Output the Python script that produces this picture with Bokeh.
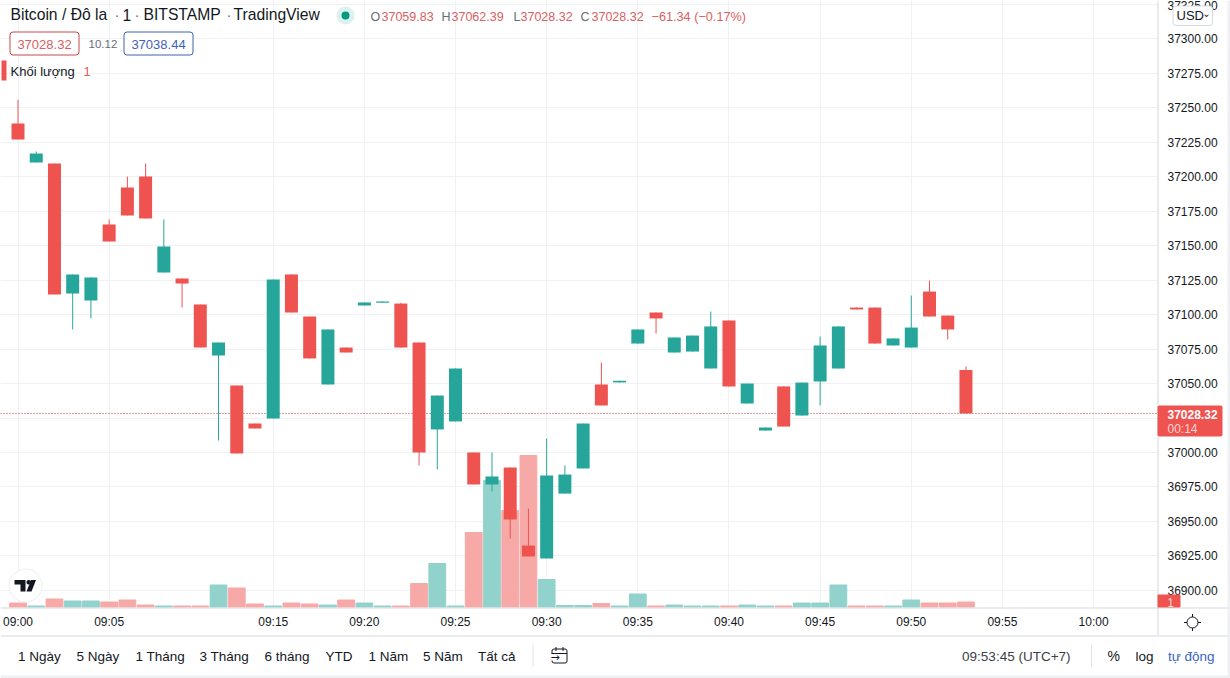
from bokeh.embed import file_html
from bokeh.resources import INLINE
from bokeh.plotting import figure
from bokeh.models import (ColumnDataSource, Range1d, FixedTicker, NumeralTickFormatter,
                          Span, Label, BoxAnnotation, PolyAnnotation, AllLabels)
import numpy as np

# ---- data ----
open_ = [37238.6,37210.3,37209.6,37115.3,37110.2,37165.3,37192.2,37200.1,37130.5,37126.2,
         37107.3,37070.3,37048.6,37021.0,37024.6,37129.1,37098.6,37049.3,37076.1,37106.6,
         37108.6,37108.0,37079.8,37016.7,37022.5,37000.0,36976.8,36989.1,36932.5,36923.1,
         36970.2,36988.4,37049.3,37050.8,37079.0,37101.5,37072.5,37073.2,37060.9,37095.7,
         37035.5,37015.9,37047.9,37026.8,37051.5,37060.9,37105.1,37105.1,37077.6,37076.1,
         37116.7,37099.3,37059.83]
close = [37227.0,37216.8,37114.6,37129.1,37126.9,37153.0,37171.9,37169.7,37149.4,37122.5,
         37076.1,37079.8,36999.3,37017.4,37125.4,37101.5,37068.2,37089.2,37072.5,37108.8,
         37109.5,37076.1,37000.0,37041.3,37060.9,36976.8,36982.6,36951.4,36924.6,36983.3,
         36984.0,37021.0,37034.1,37052.0,37089.2,37097.2,37083.4,37084.8,37091.4,37047.9,
         37050.0,37018.1,37018.8,37050.7,37077.6,37091.4,37103.7,37079.0,37082.7,37090.6,
         37098.6,37089.2,37028.32]
high =  [37255.8,37218.3,37209.6,37129.1,37126.9,37169.0,37200.1,37209.6,37169.0,37126.2,
         37107.3,37079.8,37048.6,37021.0,37125.4,37129.1,37098.6,37089.2,37076.1,37108.8,
         37109.5,37108.5,37079.8,37041.3,37060.9,37000.0,37000.0,36989.1,36959.4,37010.1,
         36990.6,37021.0,37065.2,37052.0,37089.2,37101.5,37083.4,37084.8,37102.2,37095.7,
         37050.0,37018.1,37047.9,37050.7,37084.1,37091.4,37105.1,37105.1,37082.7,37113.8,
         37124.7,37099.3,37062.39]
low =   [37227.0,37210.3,37114.6,37089.2,37097.2,37153.0,37171.9,37169.7,37130.5,37105.1,
         37076.1,37008.7,36999.3,37017.4,37024.6,37101.5,37068.2,37049.3,37072.5,37106.6,
         37108.6,37076.1,36990.6,36987.7,37022.5,36976.8,36971.7,36937.6,36924.6,36923.1,
         36970.2,36988.4,37034.1,37050.8,37079.0,37086.3,37072.5,37073.2,37060.9,37047.9,
         37035.5,37015.9,37018.8,37026.8,37034.1,37060.9,37103.7,37079.0,37077.6,37076.1,
         37098.6,37081.9,37028.32]
volume = [0.9,0.3,1.7,1.3,1.3,1.1,1.5,0.5,0.3,0.3,
          0.3,4.5,3.9,0.7,0.3,0.9,0.7,0.5,1.5,0.9,
          0.3,0.3,4.8,8.8,0.3,15.0,25.4,19.4,30.4,5.6,
          0.4,0.4,0.8,0.3,2.7,0.3,0.5,0.3,0.3,0.3,
          0.5,0.3,0.3,0.9,0.9,4.5,0.3,0.3,0.3,1.5,
          0.9,0.9,1.1]
price_ticks = [36900,36925,36950,36975,37000,37025,37050,37075,37100,37125,37150,37175,37200,37225,37250,37275,37300,37325]
time_idx = [0,5,14,19,24,29,34,39,44,49,54,59]
time_labels = ["09:00","09:05","09:15","09:20","09:25","09:30","09:35","09:40","09:45","09:50","09:55","10:00"]
range_buttons = [("1 Ngày",17.6),("5 Ngày",76),("1 Tháng",135),("3 Tháng",199),("6 tháng",264),
                 ("YTD",325),("1 Năm",368),("5 Năm",422.5),("Tất cả",477.6)]
last_price = close[-1]

UP, DOWN = "#26A69A", "#EF5350"
UP_V, DOWN_V = "#92D2CC", "#F7A9A7"
GRID, BORDER = "#F0F1F4", "#D6D8E0"
FONT = "Liberation Sans"
TXT, GREY = "#131722", "#6A6D78"
RED_T, BLUE = "#D9605F", "#3F62B5"


def px_to_x(px):
    return (px - 17.5) / 18.23

def px_to_y(py):
    return 37300 - (py - 38.3) * 0.7252

n = len(open_)
idx = np.arange(n)
up = [c >= o for o, c in zip(open_, close)]
src = ColumnDataSource(dict(
    x=idx, open=open_, close=close, high=high, low=low, volume=volume,
    color=[UP if u else DOWN for u in up],
    vcolor=[UP_V if u else DOWN_V for u in up]))

# the frame fills the page; both axes are pinned inside it at the chart's own edges,
# so the price tag, the currency box and the bottom toolbar can be drawn beside them
p = figure(width=1230, height=678,
           x_range=Range1d(px_to_x(0), px_to_x(1230)),
           y_range=Range1d(px_to_y(678), px_to_y(0)),
           y_axis_location="right", toolbar_location=None, output_backend="svg",
           min_border_left=0, min_border_right=0, min_border_top=0, min_border_bottom=0,
           background_fill_color="white", border_fill_color="white", outline_line_color=None)
p.extra_y_ranges = {"vol": Range1d(-(678 - 607) / 5, 607 / 5)}

p.xaxis.ticker = FixedTicker(ticks=time_idx)
p.xaxis.major_label_overrides = dict(zip(time_idx, time_labels))
p.xaxis.major_label_policy = AllLabels()
p.xaxis.fixed_location = px_to_y(607)
p.yaxis.ticker = FixedTicker(ticks=price_ticks)
p.yaxis.formatter = NumeralTickFormatter(format="0.00")
p.yaxis.major_label_policy = AllLabels()
p.yaxis.fixed_location = px_to_x(1157)
for ax in (p.xaxis, p.yaxis):
    ax.major_tick_line_color = None
    ax.minor_tick_line_color = None
    ax.major_tick_out = 0
    ax.major_tick_in = 0
    ax.axis_line_color = None
    ax.major_label_text_font = FONT
    ax.major_label_text_font_size = "12px"
    ax.major_label_text_color = TXT
p.xaxis.major_label_standoff = 7
p.yaxis.major_label_standoff = 10
p.xgrid.ticker = FixedTicker(ticks=time_idx)
p.ygrid.ticker = FixedTicker(ticks=price_ticks)
p.grid.grid_line_color = GRID

p.vbar(x="x", top="volume", bottom=0, width=0.92, color="vcolor", source=src, y_range_name="vol")
p.segment(x0="x", x1="x", y0="low", y1="high", line_color="color", line_width=1, source=src)
p.vbar(x="x", top="open", bottom="close", width=0.713, fill_color="color", line_color=None, source=src)

p.add_layout(Span(location=last_price, dimension="width", line_color="#B03A3A",
                  line_width=1, line_dash="1 2", level="underlay"))


def box(x0, y0, x1, y1, fill=None, line=None, radius=0, lw=1, level="overlay"):
    p.add_layout(BoxAnnotation(left=x0, right=x1, top=y0, bottom=y1, level=level,
                               left_units="canvas", right_units="canvas",
                               top_units="canvas", bottom_units="canvas",
                               fill_color=fill, fill_alpha=1 if fill else 0,
                               line_color=line, line_alpha=1 if line else 0, line_width=lw,
                               border_radius=radius))

def label(x, y, text, size=13, color=TXT, align="left", style="normal", font=FONT):
    p.add_layout(Label(x=x, y=y, x_units="canvas", y_units="canvas", text=text, level="overlay",
                       text_font=font, text_font_size=f"{size}px", text_color=color,
                       text_align=align, text_baseline="middle", text_font_style=style))

def poly(xs, ys, fill=None, line=None, lw=1):
    p.add_layout(PolyAnnotation(xs=list(xs), ys=list(ys), level="overlay",
                                xs_units="canvas", ys_units="canvas",
                                fill_color=fill, fill_alpha=1 if fill else 0,
                                line_color=line, line_alpha=1 if line else 0, line_width=lw))

# panels beside the chart: hide the grid there, under the axis labels
box(1157, 0, 1230, 678, fill="white", level="glyph")
box(0, 607, 1230, 678, fill="white", level="glyph")

# chart frame rules
box(0, 607, 1228, 608, fill=BORDER)
box(0, 635, 1228, 636, fill=BORDER)
box(1157, 0, 1158, 635, fill=BORDER)
# outer edge of the widget
box(1227, 0, 1230, 678, fill="#EEF0F3")
box(0, 675, 1230, 678, fill="#EEF0F3")

# legend, first line
label(10, 14, "Bitcoin / Đô la", 15.7)
label(114, 14, "·", 15, GREY)
label(122, 14, "1", 15.7)
label(134, 14, "·", 15, GREY)
label(143, 14, "BITSTAMP", 15.7)
label(226, 14, "·", 15, GREY)
label(233, 14, "TradingView", 15.7)
box(336, 6, 354, 24, fill="#DDF1EE", radius=9)
box(341, 11, 349, 19, fill="#089981", radius=4)
for x0, head, num in [(370, "O", f"{open_[-1]:.2f}"), (441, "H", f"{high[-1]:.2f}"),
                      (513, "L", f"{low[-1]:.2f}"), (580, "C", f"{close[-1]:.2f}")]:
    label(x0, 16, head, 12.5, GREY)
    label(x0 + {"O": 11, "H": 10, "L": 7, "C": 11}[head], 16, num, 12.5, RED_T)
label(651, 16, "−61.34 (−0.17%)", 12.7, RED_T)

# legend, second line
box(9.5, 31.5, 78.5, 54.5, fill="white", line="#C9474B", radius=3)
label(44, 43.5, f"{last_price:.2f}", 13, RED_T, "center")
label(88, 43.5, "10.12", 11.5, GREY)
box(123.5, 31.5, 192.5, 54.5, fill="white", line="#3F62A8", radius=3)
label(158, 43.5, "37038.44", 13, BLUE, "center")

# legend, third line
box(1, 60, 6, 80, fill=DOWN)
label(10, 71, "Khối lượng", 13)
label(83, 71, "1", 13, RED_T)

# currency selector
box(1172.5, 5.5, 1212, 25, fill="white", line=BORDER, radius=3)
label(1176, 15, "USD", 13)
label(1206, 13, "⌄", 10, TXT, "center", font="DejaVu Sans")

# last price tag
box(1157, 405, 1222, 436, fill=DOWN, radius=2)
label(1167, 414, f"{last_price:.2f}", 12, "white", style="bold")
label(1167, 428, "00:14", 12, "#FBD5D4")
# last volume tag
box(1157, 594, 1180, 607, fill=DOWN, radius=1)
label(1170, 602, "1", 12, "#FBD5D4", "center")

# TradingView badge
box(8.5, 568.5, 41.5, 601.5, fill="white", line="#ECEEF0", radius=17)
poly([14, 25, 25, 20, 20, 14], [579.5, 579.5, 591, 591, 584, 584], fill="#131722")
box(26, 579.5, 30.5, 584, fill="#131722", radius=2)
poly([30.5, 35.5, 31, 26], [579.5, 579.5, 591, 591], fill="#131722")

# settings icon
box(1186.5, 616.5, 1197.5, 627.5, line=TXT, radius=6)
box(1191.5, 613.5, 1192.5, 616.5, fill=TXT)
box(1191.5, 627.5, 1192.5, 630.5, fill=TXT)
box(1183.5, 621.5, 1186.5, 622.5, fill=TXT)
box(1197.5, 621.5, 1200.5, 622.5, fill=TXT)

# bottom toolbar
for name, x0 in range_buttons:
    label(x0, 655.5, name, 13.5)
box(532, 644, 533, 666, fill="#E0E3EB")
box(551.5, 648.5, 566.5, 662.5, line=TXT, radius=2)
box(550, 653, 554, 660, fill="white")
box(555, 646.5, 556, 650.5, fill=TXT)
box(562, 646.5, 563, 650.5, fill=TXT)
box(551, 652.5, 566.5, 653.5, fill=TXT)
label(550, 656.5, "→", 11, TXT, font="DejaVu Sans")
label(961.6, 655.5, "09:53:45 (UTC+7)", 13.5, "#3B3E47")
box(1090.5, 644, 1091.5, 666, fill="#E0E3EB")
label(1107, 655.5, "%", 14)
label(1135, 655.5, "log", 13.5)
label(1167.5, 655.5, "tự động", 13.5, "#3A64C0")

open("out.html", "w").write(file_html(p, INLINE))
